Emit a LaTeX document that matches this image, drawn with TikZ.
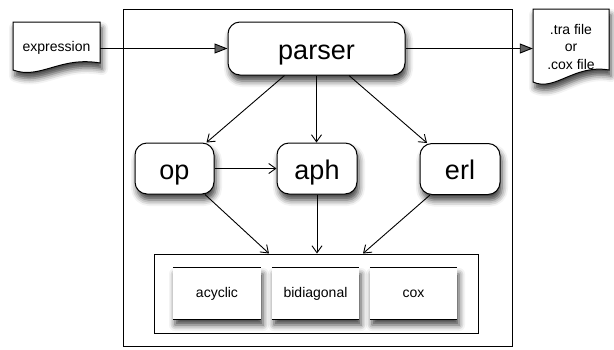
\documentclass[tikz,border=0pt]{standalone}
\usepackage{fontspec}
\setmainfont{Liberation Sans}
\usetikzlibrary{arrows.meta,shadows.blur,calc}

\begin{document}
\begin{tikzpicture}[x=1pt,y=-1pt,
  softshadow/.style={blur shadow={shadow xshift=2pt,shadow yshift=-6pt,
      shadow blur radius=6pt,shadow opacity=75}},
  frame/.style={draw,line width=1pt},
  module/.style={draw,line width=1pt,rounded corners=12pt,fill=white,softshadow,
      inner sep=0pt,minimum height=51pt,minimum width=80pt,
      text height=24pt,text depth=3pt,
      font=\fontsize{27}{30}\selectfont},
  docbox/.style={draw,line width=1pt,fill=white,softshadow},
  doctext/.style={inner sep=0pt,align=center,font=\fontsize{14}{17.5}\selectfont},
  variant/.style={fill=white,softshadow,inner sep=0pt,minimum width=88pt,
      minimum height=51pt,font=\fontsize{14}{17}\selectfont},
  flow/.style={line width=0.9pt,-{Triangle[length=13pt,width=10pt]}},
  link/.style={line width=0.9pt,-{Straight Barb[length=7pt,width=10pt]}},
]
\useasboundingbox (0,0) rectangle (614,349);

% enclosing frame of the tool and the frame of the distribution classes
\draw[frame] (123,9) rectangle (512,346);
\node[frame,inner sep=0pt,minimum width=324pt,minimum height=79pt] (classes) at (316,293.5) {};

% input and output documents
\path[docbox] (13,22) -- (100,22) -- (100,63)
  .. controls (60,56) and (40,80) .. (13,70) -- cycle;
\node[doctext,minimum width=87pt,minimum height=52pt] (expr) at (56.5,48) {expression};

\path[docbox] (533,9) -- (609,9) -- (609,70)
  .. controls (574,64) and (555,92) .. (533,82) -- cycle;
\node[doctext,minimum width=76pt,minimum height=78pt] (out) at (571,46.5) {.tra file\\or\\.cox file};

% processing modules
\node[module,minimum width=177pt,minimum height=53pt] (parser) at (316.5,48.5) {parser};
\node[module,minimum width=79pt] (op)  at (174.5,168.5) {op};
\node[module] (aph) at (317,168.5) {aph};
\node[module] (erl) at (460,169) {erl};

% distribution classes: white panels ruled top and bottom
\node[variant] (acyc) at (217,293.5) {acyclic};
\node[variant,minimum width=87pt] (bidi) at (315.5,293.5) {bidiagonal};
\node[variant,minimum width=87pt] (cox)  at (413.5,293.5) {cox};
\foreach \n in {acyc,bidi,cox}{
  \draw[line width=1pt] (\n.north west) -- (\n.north east);
  \draw[line width=1pt] (\n.south west) -- (\n.south east);
}

% connectors
\draw[flow] (expr.east |- parser.west) -- (parser.west);
\draw[flow] (parser.east) -- (out.west |- parser.east);

\draw[link] ([xshift=-32pt]parser.south) -- ([xshift=32pt]op.north);
\draw[link] (parser.south) -- (parser.south |- aph.north);
\draw[link] ([xshift=32.5pt]parser.south) -- ([xshift=-33pt]erl.north);
\draw[link] (op.east) -- (aph.west);

\draw[link] ([xshift=30.5pt]op.south) -- ([xshift=-47pt]classes.north);
\draw[link] (aph.south) -- (aph.south |- classes.north);
\draw[link] ([xshift=-30pt]erl.south) -- ([xshift=47pt]classes.north);
\end{tikzpicture}
\end{document}
